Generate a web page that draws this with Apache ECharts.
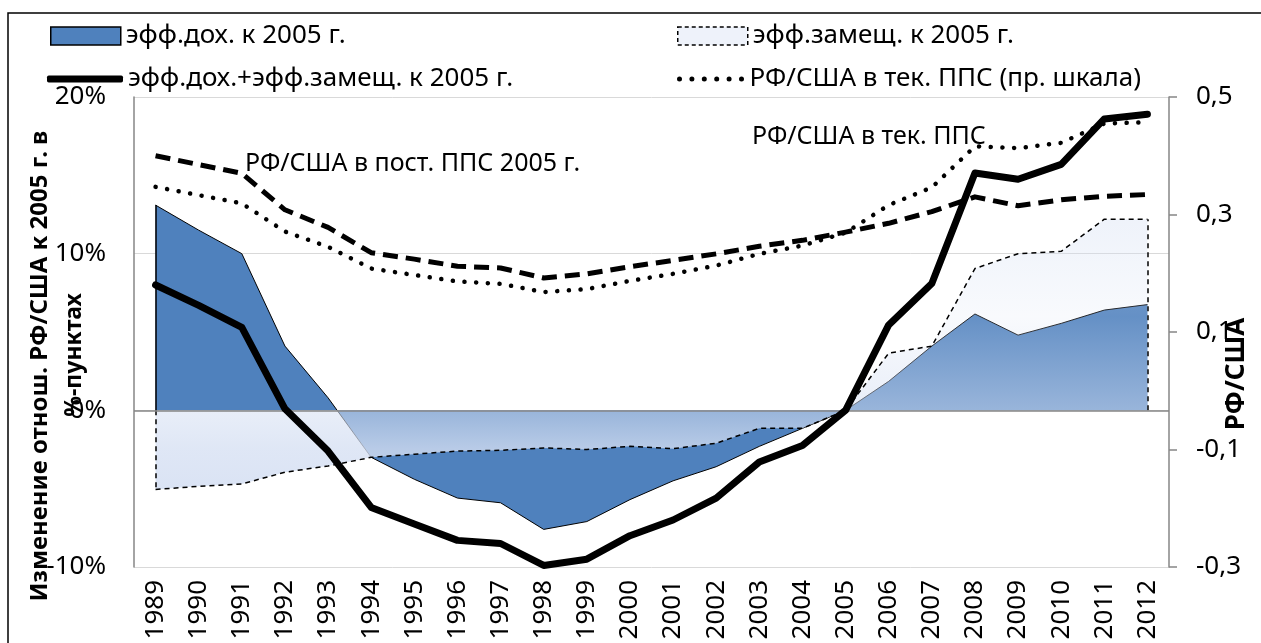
<!DOCTYPE html>
<html>
<head>
<meta charset="utf-8">
<title>РФ/США: эффект дохода и эффект замещения</title>
<script src="https://cdn.jsdelivr.net/npm/echarts@6/dist/echarts.min.js"></script>
<style>
  html, body { margin: 0; padding: 0; background: #fff; }
  #chart { width: 1261px; height: 643px; }
</style>
</head>
<body>
<div id="chart"></div>
<script>
// годы
const years = ['1989', '1990', '1991', '1992', '1993', '1994', '1995', '1996',
  '1997', '1998', '1999', '2000', '2001', '2002', '2003', '2004',
  '2005', '2006', '2007', '2008', '2009', '2010', '2011', '2012'];

// эффект дохода, % пунктов (левая шкала)
const incomeEff = [13.1, 11.5, 10.0, 4.1, 0.8, -3.0, -4.4, -5.6, -5.9, -7.6, -7.1, -5.7,
  -4.5, -3.6, -2.3, -1.15, 0, 1.85, 4.1, 6.15, 4.8, 5.55, 6.4, 6.75];

// эффект замещения, % пунктов (левая шкала)
const substEff = [-5.05, -4.85, -4.7, -3.95, -3.55, -3.0, -2.8, -2.6, -2.55, -2.4, -2.5, -2.3,
  -2.45, -2.1, -1.15, -1.15, 0, 3.65, 4.1, 9.05, 10.0, 10.15, 12.2, 12.2];

// сумма эффектов, % пунктов (левая шкала)
const totalEff = [8.0, 6.7, 5.3, 0.1, -2.6, -6.2, -7.25, -8.3, -8.5, -9.9, -9.5, -8.0,
  -7.0, -5.6, -3.3, -2.25, 0, 5.45, 8.1, 15.15, 14.75, 15.7, 18.6, 18.9];

// РФ/США в текущих ППС (правая шкала)
const ratioCurPpp = [0.347, 0.333, 0.319, 0.271, 0.245, 0.208, 0.197, 0.186, 0.182, 0.168,
  0.173, 0.187, 0.199, 0.213, 0.233, 0.247, 0.269, 0.316, 0.346, 0.416, 0.413, 0.422,
  0.455, 0.457];

// РФ/США в постоянных ППС 2005 г. (правая шкала)
const ratioConstPpp = [0.400, 0.385, 0.370, 0.308, 0.278, 0.235, 0.224, 0.212, 0.209, 0.192,
  0.199, 0.211, 0.222, 0.233, 0.246, 0.256, 0.270, 0.285, 0.305, 0.330, 0.315, 0.325,
  0.331, 0.334];

const rightTicks = [-0.3, -0.1, 0.1, 0.3, 0.5];

const NAME_INC = 'эфф.дох. к 2005 г.';
const NAME_SUB = 'эфф.замещ. к 2005 г.';
const NAME_SUM = 'эфф.дох.+эфф.замещ. к 2005 г.';
const NAME_CUR = 'РФ/США в тек. ППС (пр. шкала)';
const NAME_CONST = 'РФ/США в пост. ППС 2005 г.';

const FONT = '"Noto Sans", "DejaVu Sans", sans-serif';
const last = years.length - 1;

// иконка легенды из точек
let dots = '';
for (let i = 0; i < 6; i++) {
  const x = i * 12.4;
  dots += 'M' + x + ',2.5a2.5,2.5 0 1,0 5,0a2.5,2.5 0 1,0 -5,0z';
}

const legendText = { fontSize: 26, color: '#000', fontFamily: FONT };

const chart = echarts.init(document.getElementById('chart'), null, { renderer: 'canvas' });

const option = {
  animation: false,
  backgroundColor: '#fff',
  textStyle: { fontFamily: FONT },
  grid: { left: 134, right: 92, top: 97, bottom: 76 },
  legend: [
    {
      left: 50, top: 23, padding: 0, selectedMode: false,
      itemWidth: 70, itemHeight: 18, icon: 'rect',
      itemStyle: { color: '#4F81BD', borderColor: '#000', borderWidth: 1.5 },
      textStyle: legendText, data: [NAME_INC]
    },
    {
      left: 677, top: 23, padding: 0, selectedMode: false,
      itemWidth: 70, itemHeight: 18, icon: 'rect',
      itemStyle: { color: '#EEF2FA', borderColor: '#000', borderWidth: 1.5, borderType: [4, 3] },
      textStyle: legendText, data: [NAME_SUB]
    },
    {
      left: 47, top: 66, padding: 0, selectedMode: false,
      itemWidth: 76, itemHeight: 7, icon: 'roundRect',
      itemStyle: { color: '#000' },
      textStyle: legendText, data: [NAME_SUM]
    },
    {
      left: 677, top: 66, padding: 0, selectedMode: false,
      itemWidth: 68, itemHeight: 5, icon: 'path://' + dots,
      itemStyle: { color: '#000' },
      textStyle: legendText, data: [NAME_CUR]
    }
  ],
  xAxis: {
    type: 'category',
    data: years,
    boundaryGap: true,
    axisLine: { show: false },
    axisTick: { show: false },
    axisLabel: { rotate: 90, fontSize: 26, color: '#000', margin: 13, interval: 0 },
    splitLine: { show: false }
  },
  yAxis: [
    {
      type: 'value',
      position: 'left',
      min: -10, max: 20, interval: 10,
      axisLine: { show: true, lineStyle: { color: '#868686', width: 1.5 } },
      axisTick: { show: false },
      axisLabel: { formatter: '{value}%', fontSize: 26, color: '#000', margin: 28 },
      splitLine: { show: true, lineStyle: { color: '#D9D9D9', width: 1 } }
    },
    {
      type: 'value',
      position: 'right',
      min: -0.3, max: 0.5,
      axisLine: { show: true, lineStyle: { color: '#868686', width: 1.5 } },
      axisTick: { show: true, length: 8, customValues: rightTicks, lineStyle: { color: '#868686', width: 1.5 } },
      axisLabel: {
        customValues: rightTicks,
        fontSize: 26, color: '#000', margin: 27,
        formatter: v => v.toFixed(1).replace('.', ',')
      },
      splitLine: { show: false }
    }
  ],
  series: [
    {
      name: NAME_INC,
      type: 'line',
      yAxisIndex: 0,
      z: 2,
      data: incomeEff,
      symbol: 'none',
      lineStyle: { color: '#000', width: 1 },
      areaStyle: { color: '#4F81BD', opacity: 1 },
      markLine: {
        silent: true, symbol: ['none', 'none'], label: { show: false },
        lineStyle: { color: '#000', width: 1.5, type: 'solid' },
        data: [[{ coord: [years[0], 0] }, { coord: [years[0], incomeEff[0]] }]]
      }
    },
    {
      name: NAME_SUB,
      type: 'line',
      yAxisIndex: 0,
      z: 3,
      data: substEff,
      symbol: 'none',
      lineStyle: { color: '#000', width: 1.5, type: [5, 4] },
      areaStyle: {
        opacity: 1,
        color: {
          type: 'linear', x: 0, y: 0, x2: 0, y2: 1,
          colorStops: [
            { offset: 0, color: 'rgba(214,224,243,0.4)' },
            { offset: 0.36, color: 'rgba(214,224,243,0.16)' },
            { offset: 0.71, color: 'rgba(214,224,243,0.55)' },
            { offset: 0.85, color: 'rgba(214,224,243,0.78)' },
            { offset: 1, color: 'rgba(214,224,243,0.9)' }
          ]
        }
      },
      markLine: {
        silent: true, symbol: ['none', 'none'], label: { show: false },
        lineStyle: { color: '#000', width: 1.5, type: [5, 4] },
        data: [
          [{ coord: [years[0], 0] }, { coord: [years[0], substEff[0]] }],
          [{ coord: [years[last], 0] }, { coord: [years[last], substEff[last]] }],
          { yAxis: 0, lineStyle: { color: '#868686', width: 1.5, type: 'solid' } }
        ]
      }
    },
    {
      name: NAME_CONST,
      type: 'line',
      yAxisIndex: 1,
      z: 4,
      data: ratioConstPpp,
      symbol: 'none',
      lineStyle: { color: '#000', width: 5, type: [15, 8], join: 'round' }
    },
    {
      name: NAME_CUR,
      type: 'line',
      yAxisIndex: 1,
      z: 5,
      data: ratioCurPpp,
      symbol: 'none',
      lineStyle: { color: '#000', width: 4.5, type: [0.1, 11.6], cap: 'round' }
    },
    {
      name: NAME_SUM,
      type: 'line',
      yAxisIndex: 0,
      z: 6,
      data: totalEff,
      symbol: 'none',
      lineStyle: { color: '#000', width: 7, join: 'round', cap: 'round' }
    }
  ],
  graphic: [
    {
      type: 'rect', silent: true, z: 100,
      shape: { x: 8, y: 13, width: 1400, height: 800 },
      style: { fill: 'none', stroke: '#000', lineWidth: 1.5 }
    },
    {
      type: 'text', x: 40, y: 366, rotation: Math.PI / 2,
      style: { text: 'Изменение отнош. РФ/США к 2005 г. в', fontSize: 24, fontWeight: 'bold', fontFamily: FONT, fill: '#000', align: 'center', verticalAlign: 'middle' }
    },
    {
      type: 'text', x: 74, y: 355, rotation: Math.PI / 2,
      style: { text: '%-пунктах', fontSize: 23, fontWeight: 'bold', fontFamily: FONT, fill: '#000', align: 'center', verticalAlign: 'middle' }
    },
    {
      type: 'text', x: 1237, y: 374, rotation: Math.PI / 2,
      style: { text: 'РФ/США', fontSize: 26, fontWeight: 'bold', fontFamily: FONT, fill: '#000', align: 'center', verticalAlign: 'middle' }
    },
    {
      type: 'text', x: 245, y: 164, z: 10,
      style: { text: NAME_CONST, fontSize: 25, fontFamily: FONT, fill: '#000', align: 'left', verticalAlign: 'middle' }
    },
    {
      type: 'text', x: 752, y: 137, z: 10,
      style: { text: 'РФ/США в тек. ППС', fontSize: 25, fontFamily: FONT, fill: '#000', align: 'left', verticalAlign: 'middle' }
    }
  ]
};

chart.setOption(option);
</script>
</body>
</html>
